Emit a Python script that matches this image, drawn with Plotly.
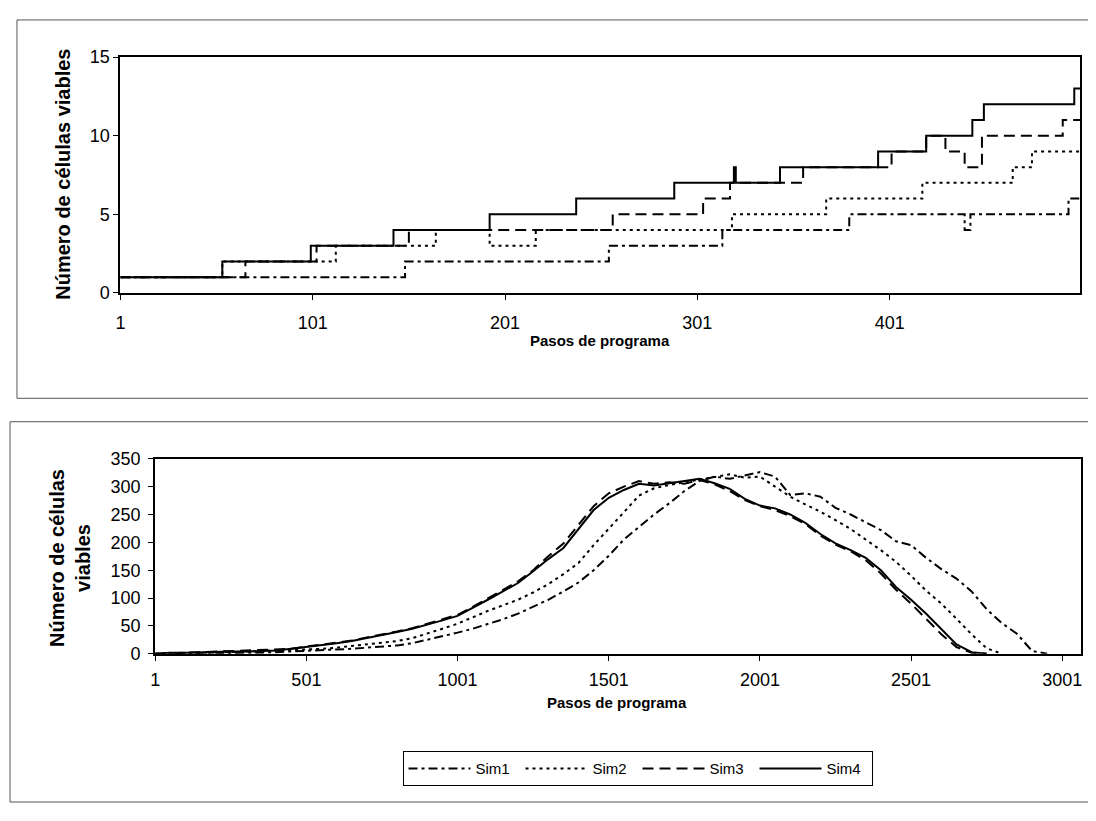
import plotly.graph_objects as go

# Figure fits inside the 1096x821 window together with the 8px page margin.
FIG_W, FIG_H = 1080, 805
OFF = 8

# ---------------- Top chart data (step functions: change points) ----------------
top_sim1_x = [1, 149, 255, 314, 380, 440, 443, 494, 500]
top_sim1_y = [1, 2, 3, 4, 5, 4, 5, 6, 6]
top_sim2_x = [1, 54, 113, 165, 193, 217, 319, 368, 418, 465, 475, 500]
top_sim2_y = [1, 2, 3, 4, 3, 4, 5, 6, 7, 8, 9, 9]
top_sim3_x = [1, 66, 103, 151, 257, 304, 318, 356, 402, 420, 430, 440, 449, 491, 500]
top_sim3_y = [1, 2, 3, 4, 5, 6, 7, 8, 9, 10, 9, 8, 10, 11, 11]
top_sim4_x = [1, 54, 100, 143, 193, 238, 289, 320, 321, 344, 395, 420, 444, 450, 497, 500]
top_sim4_y = [1, 2, 3, 4, 5, 6, 7, 8, 7, 8, 9, 10, 11, 12, 13, 13]
top_xticks = [1, 101, 201, 301, 401]
top_yticks = [0, 5, 10, 15]

# ---------------- Bottom chart data (sampled every 50 program steps) ----------------
bottom_steps = list(range(1, 3002, 50))
bot_sim1 = [0, 1, 1, 1, 1, 2, 2, 2, 3, 4, 5, 6, 8, 9, 11, 13, 15, 19, 25, 31,
            38, 45, 53, 62, 72, 84, 97, 112, 128, 150, 176, 205, 228, 250, 270, 292,
            310, 318, 314, 320, 326, 318, 285, 288, 282, 262, 250, 236, 222, 202,
            195, 172, 152, 135, 112, 80, 55, 36, 5, 0]
bot_sim2 = [0, 1, 1, 2, 2, 3, 3, 4, 5, 6, 7, 9, 11, 14, 16, 19, 23, 28, 36, 45,
            54, 66, 77, 87, 97, 110, 125, 143, 163, 195, 224, 254, 284, 297, 303, 308,
            312, 318, 322, 316, 318, 300, 282, 268, 255, 240, 224, 205, 186, 165,
            140, 113, 90, 63, 35, 10, 0]
bot_sim3 = [0, 1, 2, 2, 3, 4, 5, 6, 7, 9, 13, 16, 20, 24, 29, 34, 40, 46, 54, 62,
            70, 84, 99, 114, 130, 150, 175, 198, 232, 265, 288, 300, 310, 305, 308, 305,
            312, 304, 292, 276, 265, 258, 247, 233, 212, 196, 184, 168, 144, 115,
            90, 62, 35, 12, 2, 0]
bot_sim4 = [0, 2, 2, 3, 3, 4, 4, 5, 6, 9, 12, 15, 19, 23, 28, 33, 39, 45, 52, 60,
            68, 82, 97, 112, 127, 148, 170, 190, 225, 258, 280, 294, 305, 302, 306, 310,
            314, 306, 296, 278, 266, 261, 250, 235, 215, 198, 186, 172, 150, 120,
            97, 72, 45, 17, 3, 0]
bottom_xticks = [1, 501, 1001, 1501, 2001, 2501, 3001]
bottom_yticks = list(range(0, 351, 50))

names = ["Sim1", "Sim2", "Sim3", "Sim4"]
dashes = ["9px,4px,3px,4px", "3px,4px", "11px,6px", "solid"]

FONT = "Liberation Sans, Arial, sans-serif"

fig = go.Figure()

top_series = [(top_sim1_x, top_sim1_y), (top_sim2_x, top_sim2_y),
              (top_sim3_x, top_sim3_y), (top_sim4_x, top_sim4_y)]
for name, dash, (xs, ys) in zip(names, dashes, top_series):
    fig.add_trace(go.Scatter(x=xs, y=ys, mode="lines", name=name, showlegend=False,
                             line=dict(color="black", width=2, dash=dash, shape="hv"),
                             xaxis="x", yaxis="y"))

bottom_series = [bot_sim1, bot_sim2, bot_sim3, bot_sim4]
for name, dash, ys in zip(names, dashes, bottom_series):
    fig.add_trace(go.Scatter(x=bottom_steps[:len(ys)], y=ys, mode="lines", name=name,
                             line=dict(color="black", width=2, dash=dash),
                             xaxis="x2", yaxis="y2"))


def px_x(p):
    return (p - OFF) / FIG_W


def px_y(p):
    return 1 - (p - OFF) / FIG_H


axis_common = dict(showgrid=False, zeroline=False, showline=True, mirror=True,
                   linecolor="black", linewidth=2, ticks="outside", ticklen=5,
                   tickcolor="black", tickwidth=1,
                   tickfont=dict(family=FONT, size=18, color="black"))

fig.update_layout(
    width=FIG_W, height=FIG_H,
    margin=dict(l=0, r=0, t=0, b=0),
    paper_bgcolor="white", plot_bgcolor="white",
    font=dict(family=FONT, color="black"),
    xaxis=dict(domain=[px_x(116), px_x(1081)], range=[1, 500], tickmode="array",
               tickvals=top_xticks, ticktext=[str(v) for v in top_xticks],
               anchor="y", ticklabelstandoff=7, **axis_common),
    yaxis=dict(domain=[px_y(290), px_y(48)], range=[0, 15], tickmode="array",
               tickvals=top_yticks, anchor="x", **axis_common),
    xaxis2=dict(domain=[px_x(151), px_x(1082)], range=[1, 3063], tickmode="array",
                tickvals=bottom_xticks, ticktext=[str(v) for v in bottom_xticks],
                anchor="y2", ticklabelstandoff=4, **axis_common),
    yaxis2=dict(domain=[px_y(660), px_y(460)], range=[0, 350], tickmode="array",
                tickvals=bottom_yticks, anchor="x2", ticklabelstandoff=4,
                **axis_common),
    legend=dict(orientation="h", x=px_x(636), y=px_y(778), xanchor="center",
                yanchor="middle", bordercolor="black", borderwidth=1,
                bgcolor="white", font=dict(family=FONT, size=15, color="black"),
                itemwidth=62, entrywidth=40),
    shapes=[
        dict(type="rect", xref="paper", yref="paper", x0=px_x(12), x1=px_x(1110),
             y0=px_y(398), y1=px_y(10), line=dict(color="#555", width=1)),
        dict(type="rect", xref="paper", yref="paper", x0=px_x(5), x1=px_x(1110),
             y0=px_y(812), y1=px_y(422), line=dict(color="#555", width=1)),
    ],
    annotations=[
        dict(text="<b>Número de células viables</b>", xref="paper", yref="paper",
             x=px_x(58), y=px_y(168), textangle=-90, showarrow=False,
             xanchor="center", yanchor="middle",
             font=dict(family=FONT, size=20, color="black")),
        dict(text="<b>Pasos de programa</b>", xref="paper", yref="paper",
             x=px_x(598), y=px_y(339), showarrow=False, xanchor="center",
             yanchor="middle", font=dict(family=FONT, size=15, color="black")),
        dict(text="<b>Número de células<br>viables</b>", xref="paper", yref="paper",
             x=px_x(66), y=px_y(562), textangle=-90, showarrow=False,
             xanchor="center", yanchor="middle",
             font=dict(family=FONT, size=20, color="black")),
        dict(text="<b>Pasos de programa</b>", xref="paper", yref="paper",
             x=px_x(615), y=px_y(710), showarrow=False, xanchor="center",
             yanchor="middle", font=dict(family=FONT, size=15, color="black")),
    ],
)

fig.write_html("out.html")
